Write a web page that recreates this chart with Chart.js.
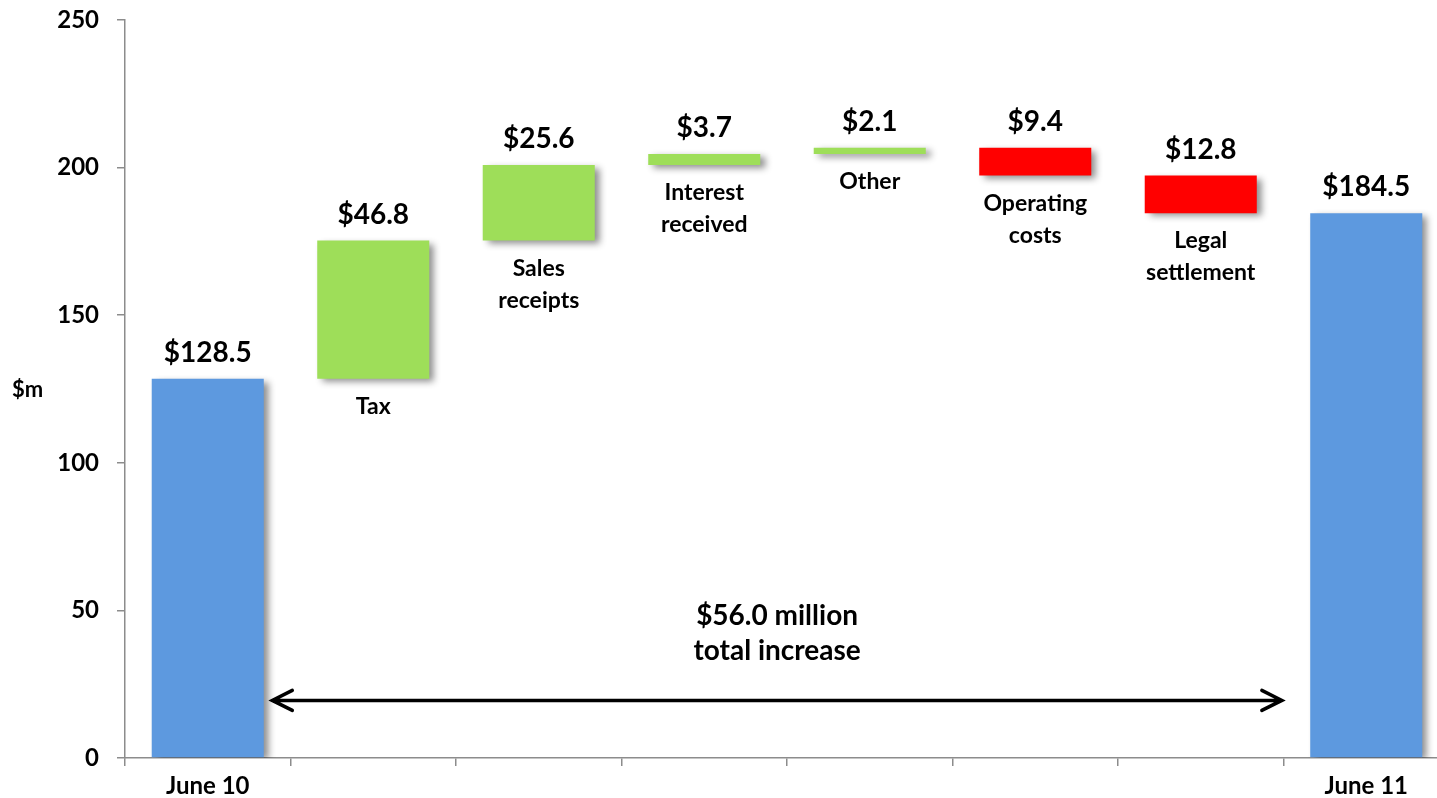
<!DOCTYPE html>
<html>
<head>
<meta charset="utf-8">
<title>Cash balance bridge</title>
<script src="https://cdn.jsdelivr.net/npm/chart.js@4.4.1/dist/chart.umd.min.js"></script>
<style>
  html, body { margin: 0; padding: 0; background: #fff; overflow: hidden; }
  #wrap { width: 1449px; height: 798px; }
</style>
</head>
<body>
<div id="wrap"><canvas id="bridgeChart"></canvas></div>
<script>
// Cash balance, $m
const categories = ["June 10", "Tax", "Sales receipts", "Interest received", "Other", "Operating costs", "Legal settlement", "June 11"];
const openingBalance = 128.5;
const movements = [46.8, 25.6, 3.7, 2.1, -9.4, -12.8];
const closingBalance = 184.5;
const yTicks = [0, 50, 100, 150, 200, 250];

const BLUE = "#5d99df";
const GREEN = "#9ede59";
const RED = "#ff0000";
const AXIS_GREY = "#8c8c8c";
const FONT = "Lato, 'Open Sans', sans-serif";

// floating bars: totals sit on zero, movements start where the last one ended
const amounts = [openingBalance, ...movements, closingBalance];
const ranges = [[0, openingBalance]];
let running = openingBalance;
movements.forEach((m) => {
    ranges.push([running, running + m]);
    running += m;
});
ranges.push([0, closingBalance]);

const barColors = amounts.map((v, i) => {
    if (i === 0 || i === amounts.length - 1) return BLUE;
    return v >= 0 ? GREEN : RED;
});

// soft drop shadow behind the bars
const barShadow = {
    id: "barShadow",
    beforeDatasetsDraw(chart) {
        const ctx = chart.ctx;
        ctx.save();
        ctx.shadowColor = "rgba(0, 0, 0, 0.45)";
        ctx.shadowBlur = 7;
        ctx.shadowOffsetX = 5;
        ctx.shadowOffsetY = 3;
    },
    afterDatasetsDraw(chart) {
        chart.ctx.restore();
    },
};

// value labels, category names under the movement bars, unit label and total arrow
const bridgeLabels = {
    id: "bridgeLabels",
    afterDatasetsDraw(chart) {
        const { ctx, chartArea, scales } = chart;
        const meta = chart.getDatasetMeta(0);
        ctx.save();
        ctx.fillStyle = "#000";
        ctx.textAlign = "center";
        ctx.textBaseline = "alphabetic";

        meta.data.forEach((bar, i) => {
            const top = Math.min(bar.y, bar.base);
            const bottom = Math.max(bar.y, bar.base);
            ctx.font = "bold 28px " + FONT;
            ctx.fillText("$" + Math.abs(amounts[i]).toFixed(1), bar.x, top - 17);

            if (i > 0 && i < categories.length - 1) {
                ctx.font = "bold 23px " + FONT;
                categories[i].split(" ").forEach((line, k) => {
                    ctx.fillText(line, bar.x, bottom + 35 + k * 32);
                });
            }
        });

        // unit label
        ctx.textAlign = "left";
        ctx.font = "bold 22px " + FONT;
        ctx.fillText("$m", 12, (chartArea.top + chartArea.bottom) / 2 + 8);

        // double-headed arrow for the net change
        const y = scales.y.getPixelForValue(19.5);
        const x1 = scales.x.getPixelForValue(0.39);
        const x2 = scales.x.getPixelForValue(6.49);
        ctx.strokeStyle = "#000";
        ctx.lineWidth = 3.5;
        ctx.lineCap = "round";
        ctx.lineJoin = "miter";
        ctx.beginPath();
        ctx.moveTo(x1, y);
        ctx.lineTo(x2, y);
        ctx.moveTo(x1 + 20, y - 10);
        ctx.lineTo(x1, y);
        ctx.lineTo(x1 + 20, y + 10);
        ctx.moveTo(x2 - 20, y - 10);
        ctx.lineTo(x2, y);
        ctx.lineTo(x2 - 20, y + 10);
        ctx.stroke();

        const mid = (x1 + x2) / 2;
        ctx.textAlign = "center";
        ctx.font = "bold 28px " + FONT;
        ctx.fillText("$" + (closingBalance - openingBalance).toFixed(1) + " million", mid, y - 75);
        ctx.fillText("total increase", mid, y - 40);
        ctx.restore();
    },
};

new Chart(document.getElementById("bridgeChart"), {
    type: "bar",
    data: {
        labels: categories,
        datasets: [
            {
                data: ranges,
                backgroundColor: barColors,
                borderWidth: 0,
                borderSkipped: false,
                barPercentage: 0.677,
                categoryPercentage: 1,
            },
        ],
    },
    options: {
        responsive: true,
        maintainAspectRatio: false,
        animation: false,
        layout: { padding: { top: 20, left: 0, right: 0, bottom: 0 } },
        plugins: {
            legend: { display: false },
            tooltip: { enabled: false },
        },
        scales: {
            x: {
                offset: true,
                afterFit(scale) {
                    scale.height = 40;
                    scale.paddingLeft = 0;
                    scale.paddingRight = 0;
                },
                border: { color: AXIS_GREY, width: 1.5 },
                grid: {
                    offset: true,
                    drawOnChartArea: false,
                    color: AXIS_GREY,
                    lineWidth: 1.5,
                    tickLength: 8,
                },
                ticks: {
                    autoSkip: false,
                    maxRotation: 0,
                    padding: 6,
                    color: "#000",
                    font: { family: FONT, size: 24, weight: "bold" },
                    callback: function (value, index) {
                        return index === 0 || index === categories.length - 1 ? categories[index] : "";
                    },
                },
            },
            y: {
                min: 0,
                max: 250,
                afterFit(scale) {
                    scale.width = 125;
                    scale.paddingTop = 0;
                    scale.paddingBottom = 0;
                },
                afterBuildTicks(scale) {
                    scale.ticks = yTicks.map((v) => ({ value: v }));
                },
                border: { color: AXIS_GREY, width: 1.5 },
                grid: {
                    drawOnChartArea: false,
                    color: AXIS_GREY,
                    lineWidth: 1.5,
                    tickLength: 8,
                },
                ticks: {
                    padding: 18,
                    color: "#000",
                    font: { family: FONT, size: 24, weight: "bold" },
                },
            },
        },
    },
    plugins: [barShadow, bridgeLabels],
});
</script>
</body>
</html>
